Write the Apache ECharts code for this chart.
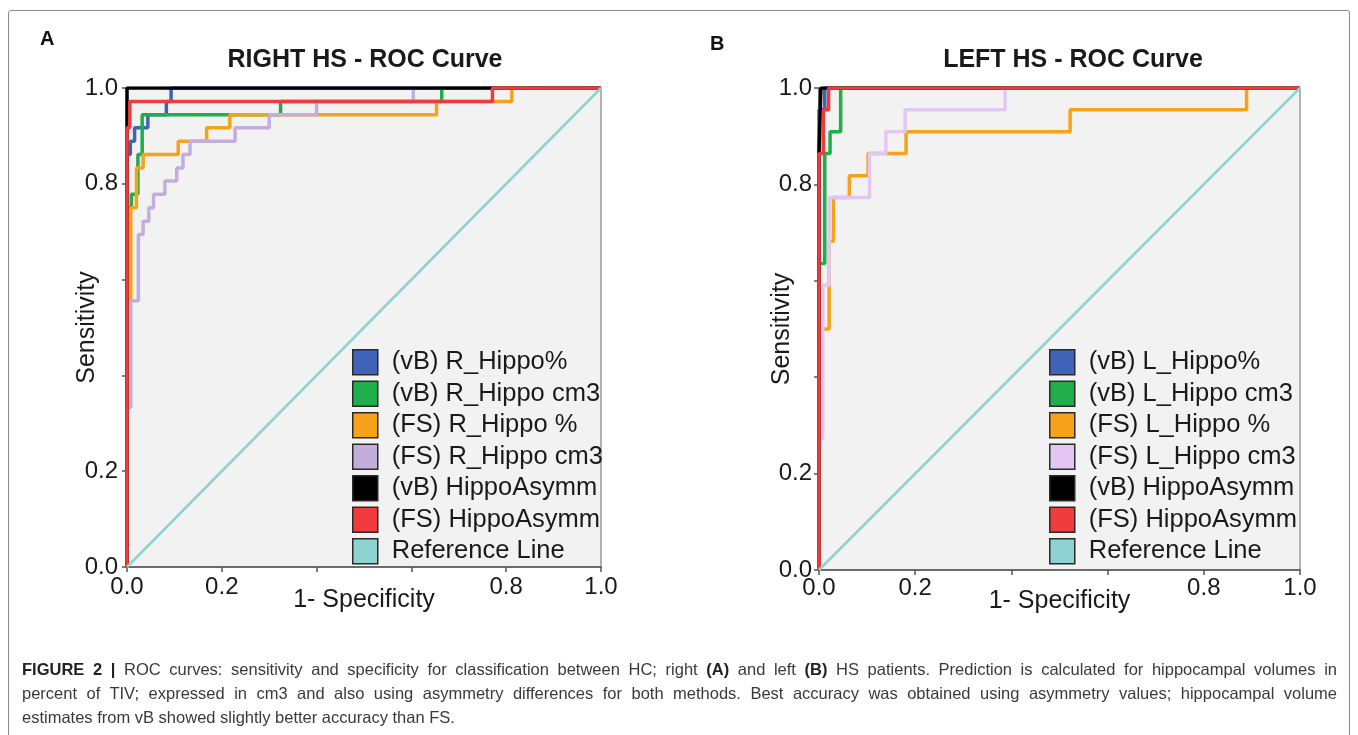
<!DOCTYPE html>
<html>
<head>
<meta charset="utf-8">
<script src="https://cdn.jsdelivr.net/npm/echarts@6/dist/echarts.min.js"></script>
<style>
  html, body { margin: 0; padding: 0; background: #fff; }
  #chart { position: absolute; left: 0; top: 0; width: 1358px; height: 735px; }
  #frame { position: absolute; left: 8px; top: 10px; width: 1340px; height: 760px; border: 1.5px solid #8a8a8a; border-radius: 3px; pointer-events: none; }
  #caption { position: absolute; left: 22px; top: 657px; width: 1315px; font-family: "Liberation Sans", Arial, sans-serif; font-size: 16.5px; line-height: 24px; color: #3a3a3a; }
  #caption div { text-align: justify; text-align-last: justify; white-space: nowrap; }
  #caption div.last { text-align-last: left; }
</style>
</head>
<body>
<div id="chart"></div>
<div id="frame"></div>
<div id="caption">
  <div><b style="color:#222">FIGURE 2 |</b> ROC curves: sensitivity and specificity for classification between HC; right <b style="color:#222">(A)</b> and left <b style="color:#222">(B)</b> HS patients. Prediction is calculated for hippocampal volumes in</div>
  <div>percent of TIV; expressed in cm3 and also using asymmetry differences for both methods. Best accuracy was obtained using asymmetry values; hippocampal volume</div>
  <div class="last">estimates from vB showed slightly better accuracy than FS.</div>
</div>
<script>
// ROC operating points [1-specificity, sensitivity]; drawn with step:'end'
// (horizontal first, then vertical), so each point is one staircase corner.

// Panel A: right HS
const rightNames = ['(vB) R_Hippo%', '(vB) R_Hippo cm3', '(FS) R_Hippo %', '(FS) R_Hippo cm3', '(vB) HippoAsymm', '(FS) HippoAsymm', 'Reference Line'];
const rightVbPct = [[0, 0], [0, 0.861], [0.007, 0.889], [0.016, 0.917], [0.044, 0.944], [0.083, 0.972], [0.093, 1], [1, 1]];
const rightVbCm3 = [[0, 0], [0, 0.75], [0.009, 0.778], [0.023, 0.861], [0.032, 0.944], [0.324, 0.972], [0.664, 1], [1, 1]];
const rightFsPct = [[0, 0], [0, 0.556], [0.008, 0.75], [0.02, 0.833], [0.034, 0.861], [0.108, 0.889], [0.168, 0.917], [0.217, 0.944], [0.653, 0.972], [0.812, 1], [1, 1]];
const rightFsCm3 = [[0, 0], [0, 0.333], [0.008, 0.556], [0.024, 0.694], [0.034, 0.722], [0.046, 0.75], [0.056, 0.778], [0.08, 0.806], [0.105, 0.833], [0.118, 0.861], [0.133, 0.889], [0.228, 0.917], [0.3, 0.944], [0.4, 0.972], [0.604, 1], [1, 1]];
const rightVbAsym = [[0, 0], [0, 1], [1, 1]];
const rightFsAsym = [[0, 0], [0, 0.917], [0.006, 0.972], [0.771, 1], [1, 1]];

// Panel B: left HS
const leftNames = ['(vB) L_Hippo%', '(vB) L_Hippo cm3', '(FS) L_Hippo %', '(FS) L_Hippo cm3', '(vB) HippoAsymm', '(FS) HippoAsymm', 'Reference Line'];
const leftVbPct = [[0, 0], [0, 0.955], [0.012, 1], [1, 1]];
const leftVbCm3 = [[0, 0], [0, 0.636], [0.012, 0.864], [0.023, 0.909], [0.045, 1], [1, 1]];
const leftFsPct = [[0, 0], [0, 0.5], [0.021, 0.682], [0.03, 0.773], [0.063, 0.818], [0.102, 0.864], [0.181, 0.909], [0.522, 0.955], [0.889, 1], [1, 1]];
const leftFsCm3 = [[0, 0], [0, 0.273], [0.008, 0.591], [0.021, 0.773], [0.105, 0.864], [0.139, 0.909], [0.179, 0.955], [0.387, 1], [1, 1]];
const leftVbAsym = [[0, 0], [0, 0.864], [0.004, 1], [1, 1]];
const leftFsAsym = [[0, 0], [0, 0.864], [0.009, 0.955], [0.02, 1], [1, 1]];

const refLine = [[0, 0], [1, 1]];
const tickLabels = ['0.0', '0.2', '', '', '0.8', '1.0'];

const FONT = '"Liberation Sans", Arial, sans-serif';
const colorsA = ['#3f63b8', '#1fae4a', '#f7a21b', '#c3aedb', '#000000', '#ef3b3b', '#8fd3d1'];
const colorsB = ['#3f63b8', '#1fae4a', '#f7a21b', '#e2c8f0', '#000000', '#ef3b3b', '#8fd3d1'];

function axis(idx, isX, name, gap, margin) {
  return {
    type: 'value', gridIndex: idx, min: 0, max: 1, interval: 0.2,
    name: name, nameLocation: 'middle', nameGap: gap, nameRotate: isX ? 0 : 90,
    nameMoveOverlap: false,
    nameTextStyle: { fontFamily: FONT, fontSize: 25, color: '#1a1a1a' },
    axisLine: { show: true, lineStyle: { color: '#555', width: 1.5 } },
    axisTick: { show: true, length: 5, lineStyle: { color: '#555', width: 1.5 } },
    axisLabel: {
      fontFamily: FONT, fontSize: 24, color: '#1a1a1a', margin: margin,
      formatter: function (v) { return tickLabels[Math.round(v * 5)]; }
    },
    splitLine: { show: false }
  };
}

function panelSeries(idx, names, curves, colors) {
  const out = curves.map(function (d, i) {
    return {
      type: 'line', name: names[i], xAxisIndex: idx, yAxisIndex: idx,
      data: d, step: 'end', showSymbol: false, color: colors[i],
      lineStyle: { width: 3.5, color: colors[i] }, animation: false
    };
  });
  out.push({
    type: 'line', name: names[6], xAxisIndex: idx, yAxisIndex: idx,
    data: refLine, showSymbol: false, color: colors[6],
    lineStyle: { width: 2.5, color: colors[6] }, animation: false
  });
  return out;
}

function legend(left, names) {
  return {
    orient: 'vertical', left: left, top: 344, data: names,
    icon: 'rect', itemWidth: 25, itemHeight: 25, itemGap: 5,
    itemStyle: { borderColor: '#2a2a2a', borderWidth: 1.5 },
    textStyle: { fontFamily: FONT, fontSize: 25.5, color: '#1a1a1a', padding: [0, 0, 0, 9] },
    selectedMode: false
  };
}

const chart = echarts.init(document.getElementById('chart'));
chart.setOption({
  animation: false,
  backgroundColor: 'transparent',
  title: [
    { text: 'RIGHT HS - ROC Curve', left: 360, top: 43, textAlign: 'center',
      textStyle: { fontFamily: FONT, fontSize: 25, fontWeight: 'bold', color: '#1a1a1a' } },
    { text: 'LEFT HS - ROC Curve', left: 1068, top: 43, textAlign: 'center',
      textStyle: { fontFamily: FONT, fontSize: 25, fontWeight: 'bold', color: '#1a1a1a' } }
  ],
  graphic: [
    { type: 'text', left: 40, top: 29, style: { text: 'A', font: 'bold 20px ' + FONT, fill: '#111' } },
    { type: 'text', left: 710, top: 34, style: { text: 'B', font: 'bold 20px ' + FONT, fill: '#111' } }
  ],
  grid: [
    { left: 127, top: 88, width: 474, height: 479, show: true, backgroundColor: '#f2f2f2', borderColor: '#9a9a9a', borderWidth: 1.5 },
    { left: 819, top: 88, width: 481, height: 482, show: true, backgroundColor: '#f2f2f2', borderColor: '#9a9a9a', borderWidth: 1.5 }
  ],
  xAxis: [axis(0, true, '1- Specificity', 21, 8), axis(1, true, '1- Specificity', 19, 6)],
  yAxis: [axis(0, false, 'Sensitivity', 27, 9), axis(1, false, 'Sensitivity', 24, 7)],
  legend: [legend(347, rightNames), legend(1044, leftNames)],
  series: panelSeries(0, rightNames, [rightVbPct, rightVbCm3, rightFsPct, rightFsCm3, rightVbAsym, rightFsAsym], colorsA)
    .concat(panelSeries(1, leftNames, [leftVbPct, leftVbCm3, leftFsPct, leftFsCm3, leftVbAsym, leftFsAsym], colorsB))
});
</script>
</body>
</html>
